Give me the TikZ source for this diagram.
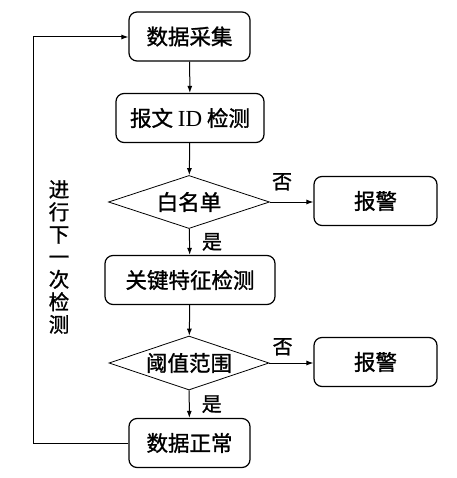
\documentclass[tikz,border=0pt]{standalone}
\usepackage{fontspec}
\setmainfont{Noto Sans CJK SC}[FakeBold=1.2]
\newfontfamily\idfont{Liberation Serif}
\usetikzlibrary{shapes.geometric,arrows.meta}
\begin{document}
\begin{tikzpicture}[x=1pt,y=-1pt,
  box/.style={draw,line width=1.2pt,rounded corners=8pt,minimum height=49pt,inner sep=0pt,font=\fontsize{21.5}{21.5}\selectfont},
  dia/.style={draw,line width=0.8pt,diamond,aspect=3,inner sep=0pt,font=\fontsize{21.5}{21.5}\selectfont},
  arr/.style={line width=1pt,-{Latex[length=7pt,width=5pt]}},
  lbl/.style={font=\fontsize{20}{20}\selectfont,inner sep=0pt}]
\useasboundingbox (0,0) rectangle (456,478);
\node[box,minimum width=121pt] (a) at (189.5,36.5) {数据采集};
\node[box,minimum width=148pt] (b) at (190,118) {报文 {\idfont\fontsize{23}{23}\selectfont ID} 检测};
\node[dia,minimum width=161pt,minimum height=53pt] (c) at (189,202) {白名单};
\node[box,minimum width=123pt] (w1) at (375.5,201) {报警};
\node[box,minimum width=170pt] (d) at (190,280) {关键特征检测};
\node[dia,minimum width=160pt,minimum height=54pt] (e) at (189,363) {阈值范围};
\node[box,minimum width=123pt] (w2) at (375.5,362) {报警};
\node[box,minimum width=121pt] (f) at (189.5,443) {数据正常};
\draw[arr] (a) -- (b);
\draw[arr] (b) -- (c);
\draw[arr] (c) -- (d) node[lbl,pos=0.5,right=12pt] {是};
\draw[arr] (c.east) -- (w1.west |- c.east) node[lbl,pos=0.28,above=11pt] {否};
\draw[arr] (d) -- (e);
\draw[arr] (e) -- (f) node[lbl,pos=0.5,right=12pt] {是};
\draw[arr] (e.east) -- (w2.west |- e.east) node[lbl,pos=0.3,above=7pt] {否};
\coordinate (lb) at (33,443);
\coordinate (lt) at (33,37);
\draw[arr] (f.west) -- (lb) -- (lt) -- (a.west |- lt);
\node[lbl,font=\fontsize{20.5}{22.5}\selectfont,align=center] (t) at (59,257) {进\\行\\下\\一\\次\\检\\测};
\end{tikzpicture}
\end{document}
